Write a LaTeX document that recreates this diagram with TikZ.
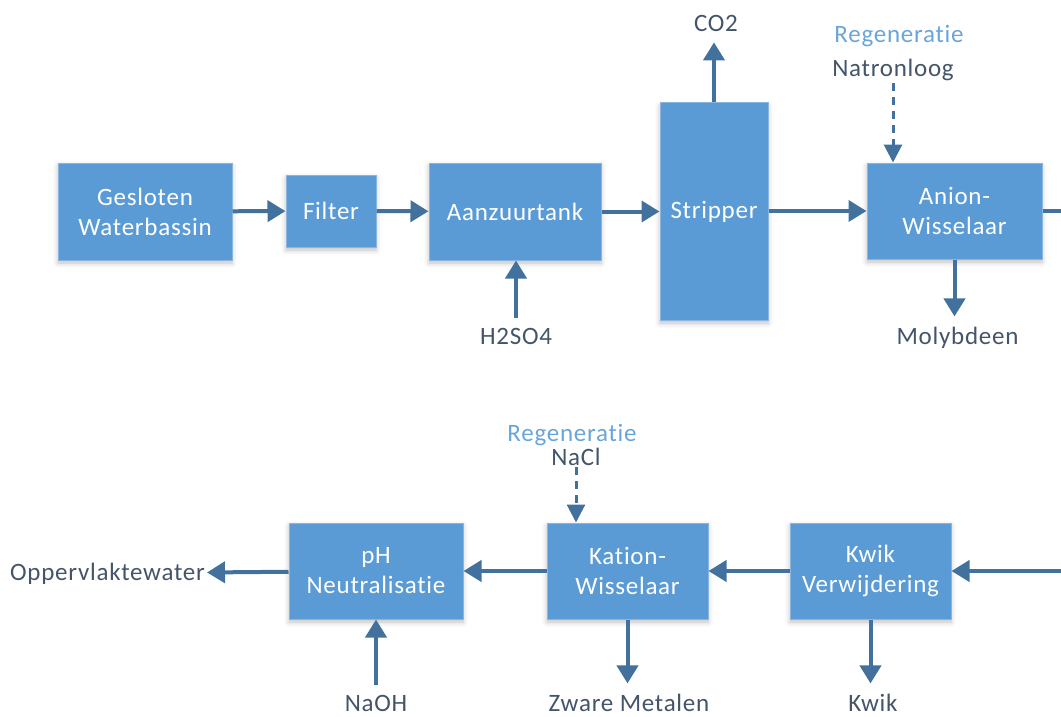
\documentclass[tikz,border=0pt]{standalone}
\usepackage{fontspec}
\setmainfont{Carlito}[Ligatures=NoCommon, LetterSpace=3]
\usetikzlibrary{arrows.meta,shadows.blur}

\definecolor{blokblauw}{HTML}{5B9BD5}
\definecolor{blokrand}{HTML}{8CB6DF}
\definecolor{pijlblauw}{HTML}{41719C}
\definecolor{stoftekst}{HTML}{44546A}
\definecolor{regentekst}{HTML}{6AA5DA}

\begin{document}
\begin{tikzpicture}[x=1pt,y=-1pt, % 1 pixel = 1 pt, y naar beneden
    font=\fontsize{25}{30}\selectfont,
    proces/.style={draw=blokrand, line width=1pt, fill=blokblauw, text=white,
        align=center, inner sep=0pt,
        blur shadow={shadow xshift=0pt, shadow yshift=-3pt, shadow blur radius=5pt, shadow opacity=25}},
    stof/.style={text=stoftekst, anchor=base, inner sep=10pt},
    regen/.style={text=regentekst, anchor=base, inner sep=2pt},
    stroom/.style={draw=pijlblauw, line width=4pt, -{Triangle[width=21pt,length=18pt]}},
    regenpijl/.style={draw=pijlblauw, line width=3pt, dash pattern=on 8pt off 6pt,
        -{Triangle[width=18pt,length=18pt]}}]

    \useasboundingbox (0,0) rectangle (1061,717); % Zelfde maat als origineel

    % Bovenste rij: van links naar rechts
    \node[proces, minimum width=174pt, minimum height=97pt] (water) at (145,211.5) {Gesloten\\Waterbassin};
    \node[proces, minimum width=90pt, minimum height=72pt] (filter) at (331,211) {Filter};
    \node[proces, minimum width=172pt, minimum height=97pt] (zuur) at (515,211.5) {Aanzuurtank};
    \node[proces, minimum width=108pt, minimum height=217pt] (strip) at (714,211.5) {Stripper};
    \node[proces, minimum width=175pt, minimum height=96pt] (anion) at (954.5,211) {Anion-\\Wisselaar};
    \coordinate (uitA) at (1085,211); % Loopt door buiten beeld

    % Onderste rij: van rechts naar links
    \coordinate (inK) at (1085,571);
    \node[proces, minimum width=161pt, minimum height=96pt] (kwik) at (870.5,571) {Kwik\\Verwijdering};
    \node[proces, minimum width=161pt, minimum height=96pt] (kation) at (627.5,571) {Kation-\\Wisselaar};
    \node[proces, minimum width=174pt, minimum height=96pt] (ph) at (376,571) {pH\\Neutralisatie};

    % Stoffen in en uit
    \node[stof] (co2) at (716,32) {CO2};
    \node[regen] (regenA) at (899,43) {Regeneratie};
    \node[stof, inner sep=2pt] (natron) at (893,77) {Natronloog};
    \node[stof] (molyb) at (957.5,344) {Molybdeen};
    \node[stof] (zwavel) at (516,344) {H2SO4};
    \node[regen] (regenK) at (572,441) {Regeneratie};
    \node[stof, inner sep=2pt] (nacl) at (576,465) {NaCl};
    \node[stof, anchor=base east, inner sep=2pt] (opp) at (207,580) {Oppervlaktewater};
    \node[stof] (naoh) at (376,711) {NaOH};
    \node[stof] (zwaar) at (629,711) {Zware Metalen};
    \node[stof] (kwikuit) at (873,711) {Kwik};

    % Hoofdstroom
    \draw[stroom] (water) -- (filter);
    \draw[stroom] (filter) -- (zuur);
    \draw[stroom] (zuur) -- (zuur -| strip.west);
    \draw[stroom] (strip.east |- anion) -- (anion);
    \draw[stroom] (anion) -- (uitA);
    \draw[stroom] (inK) -- (kwik);
    \draw[stroom] (kwik) -- (kation);
    \draw[stroom] (kation) -- (ph);
    \draw[stroom] (ph) -- (opp);

    % Bijstromen
    \draw[stroom] (strip.north) -- (strip.north |- co2.south);
    \draw[stroom] (zwavel.north) -- (zwavel.north |- zuur.south);
    \draw[stroom] (anion.south) -- (anion.south |- molyb.north);
    \draw[stroom] (naoh.north) -- (ph.south);
    \draw[stroom] (kation.south) -- (kation.south |- zwaar.north);
    \draw[stroom] (kwik.south) -- (kwik.south |- kwikuit.north);
    \draw[regenpijl] (natron.south) -- (natron.south |- anion.north);
    \draw[regenpijl] (nacl.south) -- (nacl.south |- kation.north);

\end{tikzpicture}
\end{document}
